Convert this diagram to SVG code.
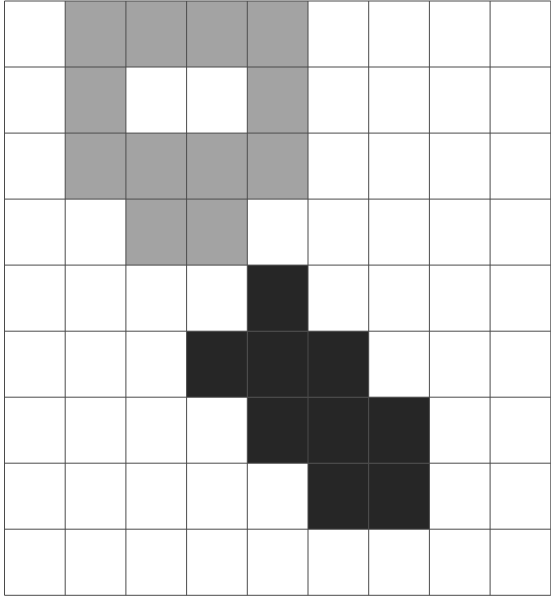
<svg xmlns="http://www.w3.org/2000/svg" width="551" height="598" viewBox="0 0 551 598">
<style>
.c{stroke:#4a4a4a;stroke-width:1}
.w{fill:#ffffff}
.g{fill:#a3a3a3}
.d{fill:#262626}
</style>
<rect width="551" height="598" fill="#ffffff"/>
<g id="grid">
<!-- background white cells -->
<rect class="w" x="4.5" y="1" width="546.3" height="594.3"/>
<!-- gray cells -->
<rect class="g" x="65.2" y="1" width="60.7" height="66"/>
<rect class="g" x="125.9" y="1" width="60.7" height="66"/>
<rect class="g" x="186.6" y="1" width="60.7" height="66"/>
<rect class="g" x="247.3" y="1" width="60.7" height="66"/>
<rect class="g" x="65.2" y="67" width="60.7" height="66.1"/>
<rect class="g" x="247.3" y="67" width="60.7" height="66.1"/>
<rect class="g" x="65.2" y="133.1" width="60.7" height="66"/>
<rect class="g" x="125.9" y="133.1" width="60.7" height="66"/>
<rect class="g" x="186.6" y="133.1" width="60.7" height="66"/>
<rect class="g" x="247.3" y="133.1" width="60.7" height="66"/>
<rect class="g" x="125.9" y="199.1" width="60.7" height="66"/>
<rect class="g" x="186.6" y="199.1" width="60.7" height="66"/>
<!-- dark cells -->
<rect class="d" x="247.3" y="265.1" width="60.7" height="66.1"/>
<rect class="d" x="186.6" y="331.2" width="60.7" height="66"/>
<rect class="d" x="247.3" y="331.2" width="60.7" height="66"/>
<rect class="d" x="308" y="331.2" width="60.7" height="66"/>
<rect class="d" x="247.3" y="397.2" width="60.7" height="66"/>
<rect class="d" x="308" y="397.2" width="60.7" height="66"/>
<rect class="d" x="368.7" y="397.2" width="60.7" height="66"/>
<rect class="d" x="308" y="463.2" width="60.7" height="66"/>
<rect class="d" x="368.7" y="463.2" width="60.7" height="66"/>
<!-- grid lines -->
<g class="c" fill="none">
<path d="M4.5 1V595.3M65.2 1V595.3M125.9 1V595.3M186.6 1V595.3M247.3 1V595.3M308 1V595.3M368.7 1V595.3M429.4 1V595.3M490.1 1V595.3M550.8 1V595.3"/>
<path d="M4.5 1H550.8M4.5 67H550.8M4.5 133.1H550.8M4.5 199.1H550.8M4.5 265.1H550.8M4.5 331.2H550.8M4.5 397.2H550.8M4.5 463.2H550.8M4.5 529.2H550.8M4.5 595.3H550.8"/>
</g>
</g>
</svg>
